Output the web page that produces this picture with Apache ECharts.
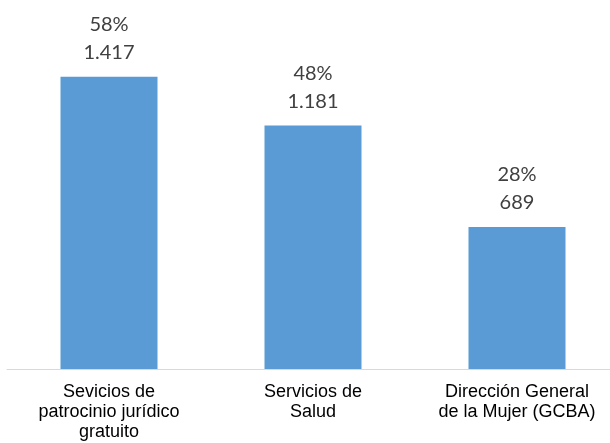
<!DOCTYPE html>
<html>
<head>
<meta charset="utf-8">
<script src="https://cdn.jsdelivr.net/npm/echarts@6/dist/echarts.min.js"></script>
<style>
  html, body { margin: 0; padding: 0; background: #fff; overflow: hidden; }
  #chart { width: 620px; height: 443px; }
</style>
</head>
<body>
<div id="chart"></div>
<script>
  const categories = [
    'Sevicios de\npatrocinio jurídico\ngratuito',
    'Servicios de\nSalud',
    'Dirección General\nde la Mujer (GCBA)'
  ];
  const values = [1417, 1181, 689];
  const percents = ['58%', '48%', '28%'];

  // 1417 -> 1.417
  function fmt(v) {
    return String(v).replace(/\B(?=(\d{3})+(?!\d))/g, '.');
  }

  // container is a bit wider than the window so the axis runs off the right edge
  const chart = echarts.init(document.getElementById('chart'));
  chart.setOption({
    animation: false,
    grid: { left: 7, right: 1, top: 39, bottom: 74, containLabel: false },
    xAxis: {
      type: 'category',
      data: categories,
      axisLine: { show: true, lineStyle: { color: '#d9d9d9', width: 1 } },
      axisTick: { show: false },
      axisLabel: {
        interval: 0,
        margin: 13,
        color: '#000',
        fontFamily: 'Liberation Sans, Arial',
        fontSize: 18,
        lineHeight: 20
      }
    },
    yAxis: {
      type: 'value',
      min: 0,
      max: 1600,
      show: false,
      splitLine: { show: false }
    },
    series: [
      {
        type: 'bar',
        data: values,
        barWidth: 97,
        itemStyle: { color: '#5b9bd5' },
        label: {
          show: true,
          position: 'top',
          distance: 10,
          color: '#404040',
          fontFamily: 'Lato',
          fontSize: 20,
          lineHeight: 28,
          formatter: function (p) {
            return percents[p.dataIndex] + '\n' + fmt(p.value);
          }
        }
      }
    ]
  });
</script>
</body>
</html>
